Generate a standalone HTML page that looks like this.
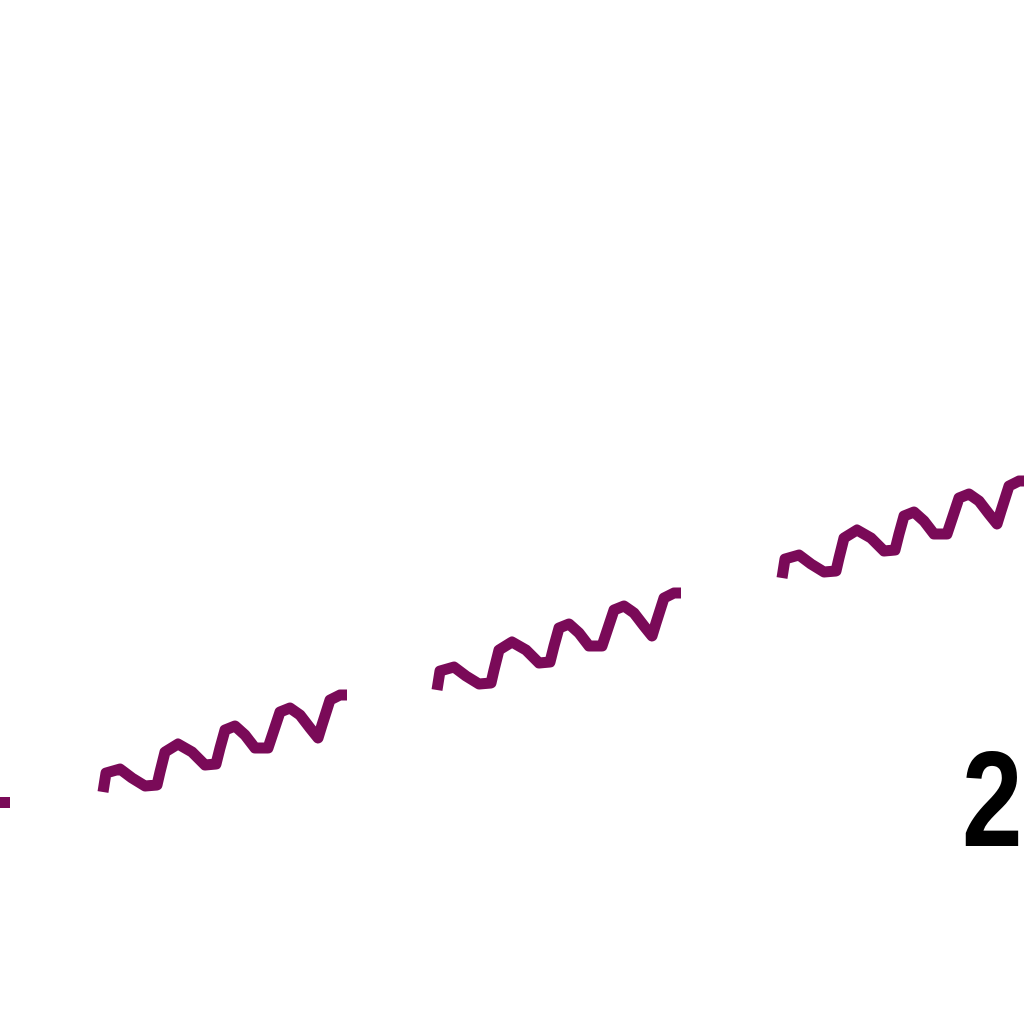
<!DOCTYPE html>
<html><head><meta charset="utf-8"><style>
html,body{margin:0;padding:0;background:#fff;width:1024px;height:1024px;overflow:hidden}
svg{display:block}
</style></head><body>
<svg id="chart" width="1024" height="1024" viewBox="0 0 1024 1024">
<rect x="0" y="797" width="10" height="11" fill="#7a0a58"/>
<g id="waves"></g>
<text x="962" y="846" font-family="Liberation Sans, sans-serif" font-weight="bold" font-size="136" fill="#000" transform="translate(962 0) scale(0.8 1) translate(-962 0)">2</text>
</svg>
<script>
// wave shape (relative x, y offsets from segment start)
const waveDx = [0,3,17,29,42,54,57,62,75,89,102,113,117,122,132,142,152,165,171,177,187,197,207,215,219,227,237,244];
const waveDy = [0,-19,-23,-14,-6,-7,-20,-40,-48,-40,-27,-28,-44,-62,-66,-57,-44,-44,-62,-80,-84,-77,-64,-54,-67,-92,-97,-97];
// segment start positions
const segX = [103,437,782];
const segY = [792,690,578];
const g = document.getElementById('waves');
for (let s = 0; s < segX.length; s++) {
  const pts = waveDx.map((d, i) => (segX[s] + d) + ',' + (segY[s] + waveDy[i])).join(' ');
  const pl = document.createElementNS('http://www.w3.org/2000/svg', 'polyline');
  pl.setAttribute('points', pts);
  pl.setAttribute('fill', 'none');
  pl.setAttribute('stroke', '#7a0a58');
  pl.setAttribute('stroke-width', '11');
  pl.setAttribute('stroke-linejoin', 'round');
  
  
  g.appendChild(pl);
}
</script>
</body></html>
